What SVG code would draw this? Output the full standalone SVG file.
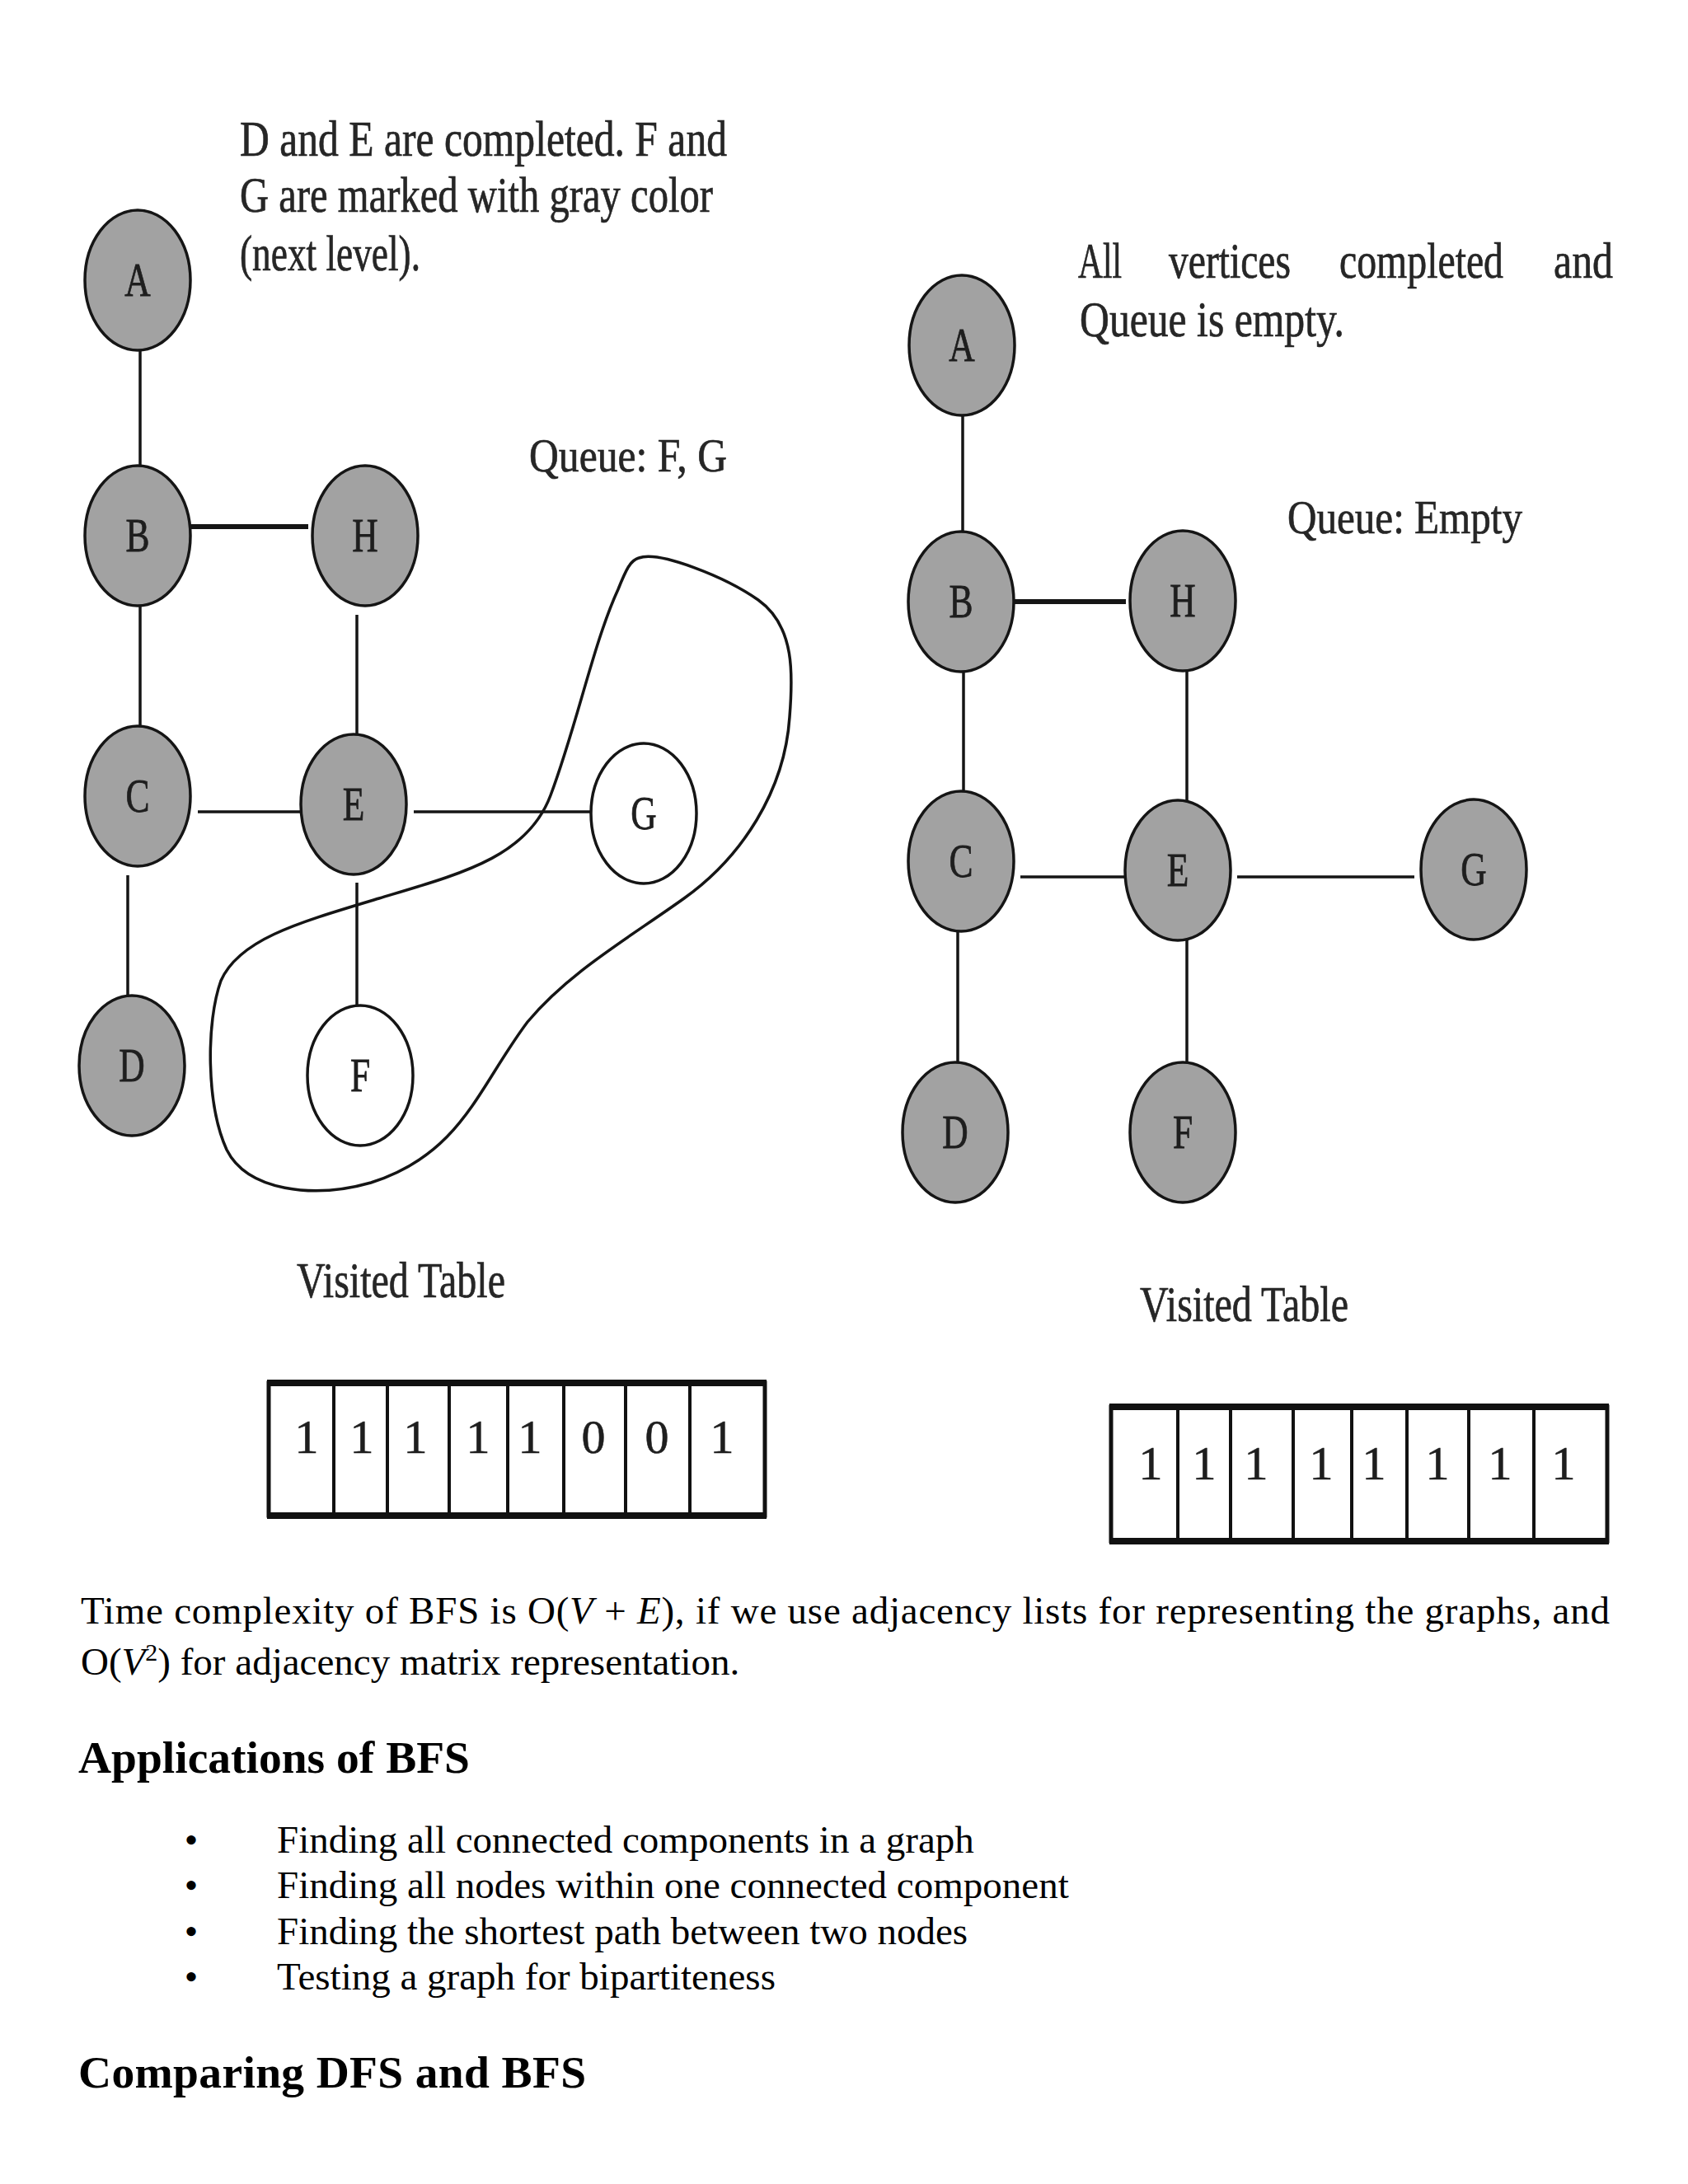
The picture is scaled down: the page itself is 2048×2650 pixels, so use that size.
<svg xmlns="http://www.w3.org/2000/svg" width="2048" height="2650" viewBox="0 0 2048 2650">
<style>
.node{fill:#a2a2a2;stroke:#151515;stroke-width:3.5}
.open{fill:#ffffff;stroke:#151515;stroke-width:3.5}
.lbl{font-family:"Liberation Serif",serif;font-size:58px;fill:#1e1e1e;stroke:#1e1e1e;stroke-width:0.8;text-anchor:middle}
.edge{stroke:#151515;stroke-width:3.5;fill:none}
.thick{stroke:#151515;stroke-width:6;fill:none}
.dt{font-family:"Liberation Serif",serif;font-size:62px;fill:#262626;stroke:#262626;stroke-width:0.7}
.dq{font-family:"Liberation Serif",serif;font-size:58px;fill:#262626;stroke:#262626;stroke-width:0.7}
.dig{font-family:"Liberation Serif",serif;font-size:58px;fill:#1e1e1e;stroke:#1e1e1e;stroke-width:0.6;text-anchor:middle}
.tbl{fill:#ffffff;stroke:#111;stroke-width:5}
.div{stroke:#111;stroke-width:4}
.tb{stroke:#111;stroke-width:8}
.body{font-family:"Liberation Serif",serif;font-size:47px;fill:#000}
.head{font-family:"Liberation Serif",serif;font-size:55.5px;font-weight:bold;fill:#000}
</style>
<rect width="2048" height="2650" fill="#ffffff"/>

<!-- Left diagram -->
<g id="left-text">
<text class="dt" x="291" y="189" textLength="591" lengthAdjust="spacingAndGlyphs">D and E are completed. F and</text>
<text class="dt" x="291" y="257" textLength="574" lengthAdjust="spacingAndGlyphs">G are marked with gray color</text>
<text class="dt" x="291" y="328" textLength="219" lengthAdjust="spacingAndGlyphs">(next level).</text>
<text class="dq" x="642" y="572" textLength="240" lengthAdjust="spacingAndGlyphs">Queue: F, G</text>
</g>
<g id="left-connectors">
<line class="edge" x1="170" y1="424" x2="170" y2="566"/>
<line class="thick" x1="232" y1="639" x2="374" y2="639"/>
<line class="edge" x1="170" y1="735" x2="170" y2="881"/>
<line class="edge" x1="433" y1="746" x2="433" y2="893"/>
<line class="edge" x1="240" y1="985" x2="365" y2="985"/>
<line class="edge" x1="502" y1="985" x2="717" y2="985"/>
<line class="edge" x1="155" y1="1062" x2="155" y2="1210"/>
<line class="edge" x1="433" y1="1071" x2="433" y2="1221"/>
<path id="left-blob" class="edge" d="M 775 677 C 800 668, 880 700, 920 728 C 965 760, 962 820, 958 870 C 952 960, 900 1040, 830 1090 C 760 1140, 690 1180, 640 1240 C 580 1320, 560 1400, 450 1435 C 380 1455, 300 1445, 275 1395 C 250 1340, 250 1240, 268 1190 C 290 1140, 360 1120, 460 1090 C 560 1060, 640 1040, 668 965 C 700 880, 720 780, 750 715 C 760 690, 765 680, 775 677 Z"/>
</g>
<g id="L-A"><ellipse class="node" cx="167" cy="340" rx="64" ry="85"/><text class="lbl" transform="translate(167,359) scale(0.75,1)">A</text></g>
<g id="L-B"><ellipse class="node" cx="167" cy="650" rx="64" ry="85"/><text class="lbl" transform="translate(167,669) scale(0.75,1)">B</text></g>
<g id="L-H"><ellipse class="node" cx="443" cy="650" rx="64" ry="85"/><text class="lbl" transform="translate(443,669) scale(0.75,1)">H</text></g>
<g id="L-C"><ellipse class="node" cx="167" cy="966" rx="64" ry="85"/><text class="lbl" transform="translate(167,985) scale(0.75,1)">C</text></g>
<g id="L-E"><ellipse class="node" cx="429" cy="976" rx="64" ry="85"/><text class="lbl" transform="translate(429,995) scale(0.75,1)">E</text></g>
<g id="L-G"><ellipse class="open" cx="781" cy="987" rx="64" ry="85"/><text class="lbl" transform="translate(781,1006) scale(0.75,1)">G</text></g>
<g id="L-D"><ellipse class="node" cx="160" cy="1293" rx="64" ry="85"/><text class="lbl" transform="translate(160,1312) scale(0.75,1)">D</text></g>
<g id="L-F"><ellipse class="open" cx="437" cy="1305" rx="64" ry="85"/><text class="lbl" transform="translate(437,1324) scale(0.75,1)">F</text></g>

<g id="left-table">
<text class="dt" x="360" y="1574" font-size="60" textLength="253" lengthAdjust="spacingAndGlyphs">Visited Table</text>
<rect class="tbl" x="326" y="1678" width="602" height="161"/>
<line class="tb" x1="324" y1="1678" x2="930" y2="1678"/>
<line class="tb" x1="324" y1="1839" x2="930" y2="1839"/>
<line class="div" x1="405" y1="1678" x2="405" y2="1839"/>
<line class="div" x1="470" y1="1678" x2="470" y2="1839"/>
<line class="div" x1="545" y1="1678" x2="545" y2="1839"/>
<line class="div" x1="616" y1="1678" x2="616" y2="1839"/>
<line class="div" x1="684" y1="1678" x2="684" y2="1839"/>
<line class="div" x1="759" y1="1678" x2="759" y2="1839"/>
<line class="div" x1="837" y1="1678" x2="837" y2="1839"/>
<text class="dig" x="372" y="1763">1</text>
<text class="dig" x="439" y="1763">1</text>
<text class="dig" x="504" y="1763">1</text>
<text class="dig" x="580" y="1763">1</text>
<text class="dig" x="643" y="1763">1</text>
<text class="dig" x="720" y="1763">0</text>
<text class="dig" x="797" y="1763">0</text>
<text class="dig" x="876" y="1763">1</text>
</g>

<!-- Right diagram -->
<g id="right-text">
<text class="dt" x="1308" y="337" textLength="53" lengthAdjust="spacingAndGlyphs">All</text>
<text class="dt" x="1418" y="337" textLength="148" lengthAdjust="spacingAndGlyphs">vertices</text>
<text class="dt" x="1625" y="337" textLength="199" lengthAdjust="spacingAndGlyphs">completed</text>
<text class="dt" x="1885" y="337" textLength="72" lengthAdjust="spacingAndGlyphs">and</text>
<text class="dt" x="1310" y="408" textLength="321" lengthAdjust="spacingAndGlyphs">Queue is empty.</text>
<text class="dq" x="1562" y="647" textLength="285" lengthAdjust="spacingAndGlyphs">Queue: Empty</text>
</g>
<g id="right-connectors">
<line class="edge" x1="1168" y1="504" x2="1168" y2="646"/>
<line class="thick" x1="1231" y1="730" x2="1366" y2="730"/>
<line class="edge" x1="1169" y1="812" x2="1169" y2="962"/>
<line class="edge" x1="1440" y1="812" x2="1440" y2="973"/>
<line class="edge" x1="1238" y1="1064" x2="1366" y2="1064"/>
<line class="edge" x1="1501" y1="1064" x2="1716" y2="1064"/>
<line class="edge" x1="1162" y1="1128" x2="1162" y2="1291"/>
<line class="edge" x1="1440" y1="1140" x2="1440" y2="1291"/>
</g>
<g id="R-A"><ellipse class="node" cx="1167" cy="419" rx="64" ry="85"/><text class="lbl" transform="translate(1167,438) scale(0.75,1)">A</text></g>
<g id="R-B"><ellipse class="node" cx="1166" cy="730" rx="64" ry="85"/><text class="lbl" transform="translate(1166,749) scale(0.75,1)">B</text></g>
<g id="R-H"><ellipse class="node" cx="1435" cy="729" rx="64" ry="85"/><text class="lbl" transform="translate(1435,748) scale(0.75,1)">H</text></g>
<g id="R-C"><ellipse class="node" cx="1166" cy="1045" rx="64" ry="85"/><text class="lbl" transform="translate(1166,1064) scale(0.75,1)">C</text></g>
<g id="R-E"><ellipse class="node" cx="1429" cy="1056" rx="64" ry="85"/><text class="lbl" transform="translate(1429,1075) scale(0.75,1)">E</text></g>
<g id="R-G"><ellipse class="node" cx="1788" cy="1055" rx="64" ry="85"/><text class="lbl" transform="translate(1788,1074) scale(0.75,1)">G</text></g>
<g id="R-D"><ellipse class="node" cx="1159" cy="1374" rx="64" ry="85"/><text class="lbl" transform="translate(1159,1393) scale(0.75,1)">D</text></g>
<g id="R-F"><ellipse class="node" cx="1435" cy="1374" rx="64" ry="85"/><text class="lbl" transform="translate(1435,1393) scale(0.75,1)">F</text></g>

<g id="right-table">
<text class="dt" x="1383" y="1603" font-size="60" textLength="253" lengthAdjust="spacingAndGlyphs">Visited Table</text>
<rect class="tbl" x="1348" y="1707" width="602" height="163"/>
<line class="tb" x1="1346" y1="1707" x2="1952" y2="1707"/>
<line class="tb" x1="1346" y1="1870" x2="1952" y2="1870"/>
<line class="div" x1="1429" y1="1707" x2="1429" y2="1870"/>
<line class="div" x1="1493" y1="1707" x2="1493" y2="1870"/>
<line class="div" x1="1569" y1="1707" x2="1569" y2="1870"/>
<line class="div" x1="1640" y1="1707" x2="1640" y2="1870"/>
<line class="div" x1="1707" y1="1707" x2="1707" y2="1870"/>
<line class="div" x1="1782" y1="1707" x2="1782" y2="1870"/>
<line class="div" x1="1861" y1="1707" x2="1861" y2="1870"/>
<text class="dig" x="1396" y="1795">1</text>
<text class="dig" x="1461" y="1795">1</text>
<text class="dig" x="1524" y="1795">1</text>
<text class="dig" x="1603" y="1795">1</text>
<text class="dig" x="1667" y="1795">1</text>
<text class="dig" x="1744" y="1795">1</text>
<text class="dig" x="1820" y="1795">1</text>
<text class="dig" x="1897" y="1795">1</text>
</g>

<!-- Body text -->
<g id="body-text">
<text class="body" x="98" y="1970" textLength="1855" lengthAdjust="spacing">Time complexity of BFS is O(<tspan font-style="italic">V</tspan> + <tspan font-style="italic">E</tspan>), if we use adjacency lists for representing the graphs, and</text>
<text class="body" x="98" y="2032">O(<tspan font-style="italic">V</tspan><tspan font-size="30" dy="-17">2</tspan><tspan dy="17">) for adjacency matrix representation.</tspan></text>
<text class="head" x="95" y="2151">Applications of BFS</text>
<text class="body" x="232" y="2248" text-anchor="middle">•</text>
<text class="body" x="336" y="2248">Finding all connected components in a graph</text>
<text class="body" x="232" y="2303" text-anchor="middle">•</text>
<text class="body" x="336" y="2303">Finding all nodes within one connected component</text>
<text class="body" x="232" y="2359" text-anchor="middle">•</text>
<text class="body" x="336" y="2359">Finding the shortest path between two nodes</text>
<text class="body" x="232" y="2414" text-anchor="middle">•</text>
<text class="body" x="336" y="2414">Testing a graph for bipartiteness</text>
<text class="head" x="95" y="2533" textLength="616" lengthAdjust="spacing">Comparing DFS and BFS</text>
</g>
</svg>
